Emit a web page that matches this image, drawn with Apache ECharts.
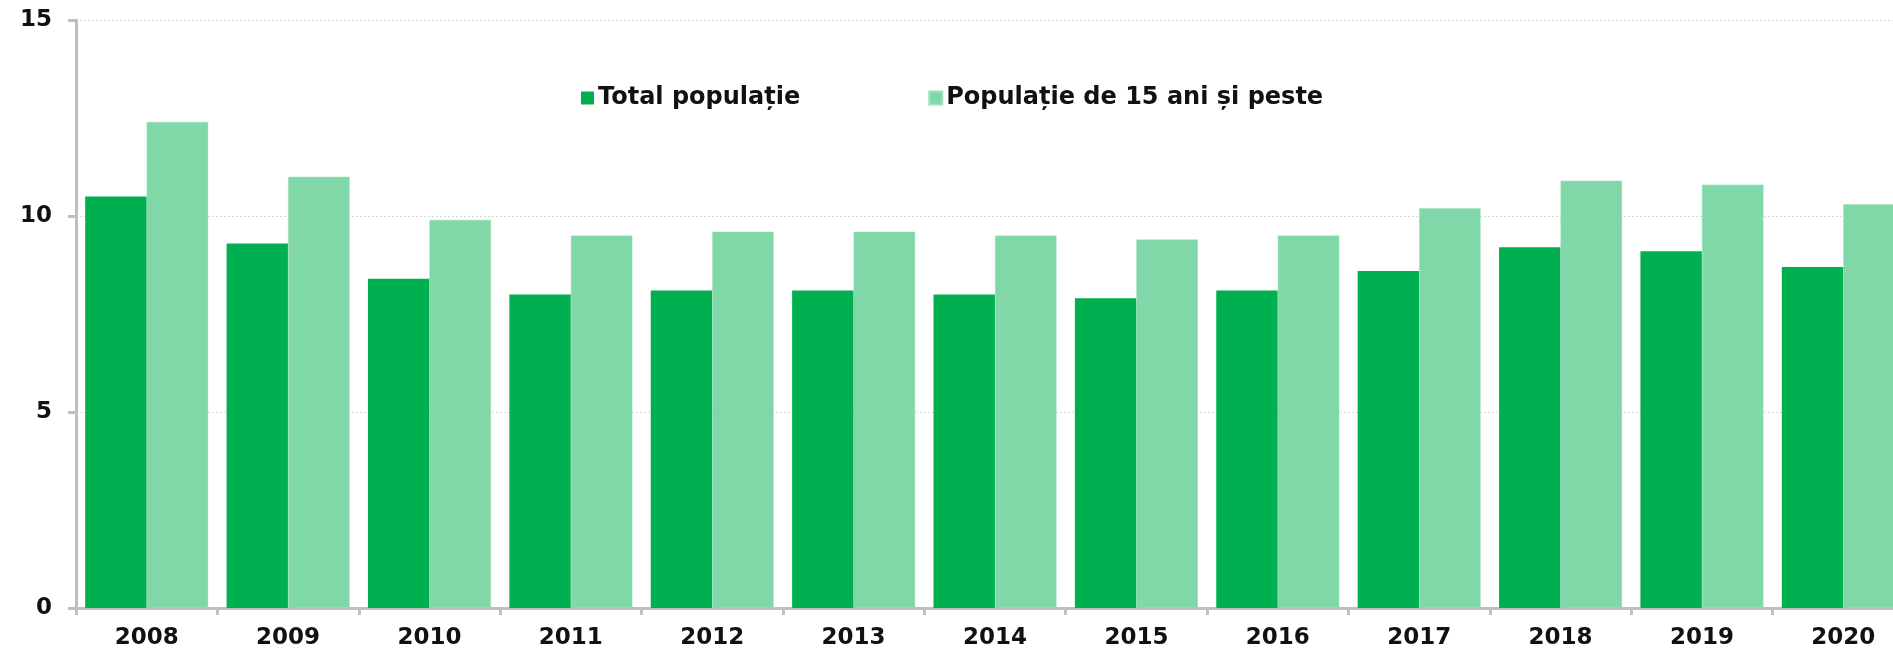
<!DOCTYPE html>
<html>
<head>
<meta charset="utf-8">
<script src="https://cdn.jsdelivr.net/npm/echarts@6/dist/echarts.min.js"></script>
<style>
html,body{margin:0;padding:0;background:#fff;}
#chart{width:1893px;height:655px;}
</style>
</head>
<body>
<div id="chart"></div>
<script>
const years = ['2008','2009','2010','2011','2012','2013','2014','2015','2016','2017','2018','2019','2020'];
const totalPopulatie = [10.5, 9.3, 8.4, 8.0, 8.1, 8.1, 8.0, 7.9, 8.1, 8.6, 9.2, 9.1, 8.7];
const populatie15Plus = [12.4, 11.0, 9.9, 9.5, 9.6, 9.6, 9.5, 9.4, 9.5, 10.2, 10.9, 10.8, 10.3];
const seriesNames = ['Total populație', 'Populație de 15 ani și peste'];

const chart = echarts.init(document.getElementById('chart'), null, {renderer:'canvas'});
const font = 'DejaVu Sans';
chart.setOption({
  animation: false,
  backgroundColor: '#ffffff',
  legend: {
    left: 576,
    top: 81,
    itemWidth: 13,
    itemHeight: 13,
    itemGap: 128,
    icon: 'rect',
    textStyle: {fontFamily: font, fontWeight: 'bold', fontSize: 24, color: '#111', padding: [0,0,0,-1]},
    data: seriesNames
  },
  grid: {left: 76, top: 20, bottom: 47, width: 1838, containLabel: false, outerBoundsMode: 'none'},
  xAxis: {
    type: 'category',
    data: years,
    boundaryGap: true,
    axisLine: {lineStyle: {color: '#bfbfbf', width: 3}},
    axisTick: {show: true, length: 7, lineStyle: {color: '#bfbfbf', width: 3}},
    axisLabel: {fontFamily: font, fontWeight: 'bold', fontSize: 23, color: '#111', margin: 19, interval: 0},
    splitLine: {show: false}
  },
  yAxis: {
    type: 'value',
    min: 0, max: 15, interval: 5,
    axisLine: {show: true, lineStyle: {color: '#bfbfbf', width: 3}},
    axisTick: {show: true, length: 8, lineStyle: {color: '#bfbfbf', width: 3}},
    axisLabel: {fontFamily: font, fontWeight: 'bold', fontSize: 23, color: '#111', margin: 24},
    splitLine: {show: true, lineStyle: {color: '#d9d9d9', width: 1, type: [2, 2]}}
  },
  series: [
    {
      name: seriesNames[0], type: 'bar', data: totalPopulatie,
      barGap: '0%', barCategoryGap: '13%',
      itemStyle: {color: '#00B050'}
    },
    {
      name: seriesNames[1], type: 'bar', data: populatie15Plus,
      barGap: '0%', barCategoryGap: '13%',
      itemStyle: {color: '#80D7A7', borderColor: '#9fe0bd', borderWidth: 0.5}
    }
  ]
});
</script>
</body>
</html>
